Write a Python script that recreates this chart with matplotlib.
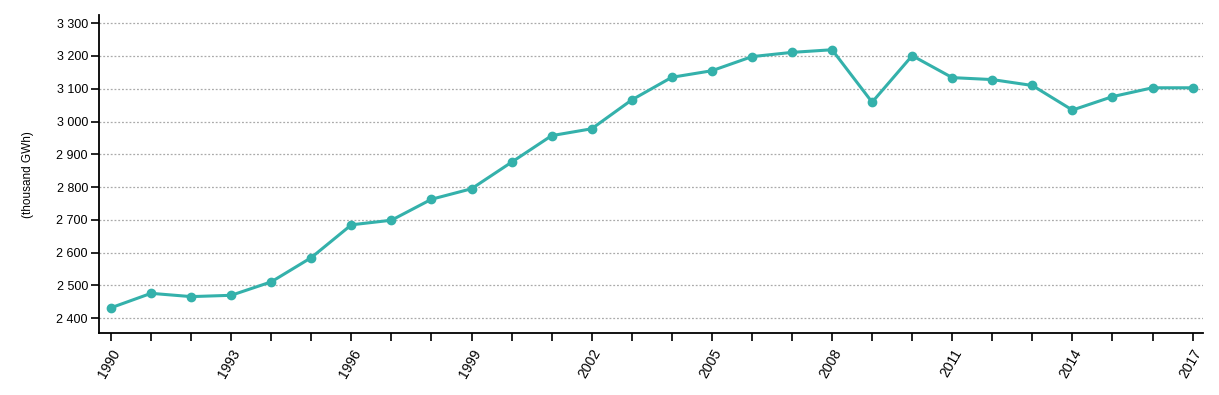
import matplotlib
matplotlib.use('Agg')
import matplotlib.pyplot as plt
from matplotlib.ticker import FuncFormatter, MultipleLocator

plt.rcParams['font.family'] = ['Liberation Sans', 'DejaVu Sans']

years = list(range(1990, 2018))
values = [2432, 2476, 2466, 2470, 2511, 2585, 2685, 2699, 2763, 2795,
          2876, 2957, 2978, 3066, 3135, 3155, 3198, 3211, 3219, 3059,
          3201, 3134, 3128, 3110, 3035, 3076, 3103, 3103]
year_labels = [1990, 1993, 1996, 1999, 2002, 2005, 2008, 2011, 2014, 2017]
y_label = '(thousand GWh)'

teal = '#34b1ab'

fig = plt.figure(figsize=(12.19, 3.95), dpi=100)
ax = fig.add_axes([99 / 1219, 1 - 333 / 395, 1104 / 1219, 318 / 395])

ax.plot(years, values, color=teal, lw=2.2, marker='o', ms=6, zorder=3)

ax.set_xlim(1989.7, 2017.26)
ax.set_ylim(2355, 3325)

ax.set_xticks(years)
ax.set_xticklabels([str(y) if y in year_labels else '' for y in years],
                   rotation=60, ha='right', va='top', rotation_mode='anchor',
                   fontsize=10)
ax.yaxis.set_major_locator(MultipleLocator(100))
ax.yaxis.set_major_formatter(FuncFormatter(lambda v, p: f'{int(v):,}'.replace(',', ' ')))
ax.tick_params(axis='y', labelsize=9, length=6, width=1.2, pad=2)
ax.tick_params(axis='x', length=6, width=1.2, pad=4)

ax.grid(axis='y', color='#aaaaaa', linestyle=(0, (1.5, 1.5)), lw=0.9)
ax.set_axisbelow(True)

for s in ['top', 'right']:
    ax.spines[s].set_visible(False)
for s in ['left', 'bottom']:
    ax.spines[s].set_linewidth(1.3)

fig.text(28 / 1219, 1 - 175 / 395, y_label, rotation=90, ha='center', va='center', fontsize=8.5)

fig.savefig('out.png', dpi=100)
